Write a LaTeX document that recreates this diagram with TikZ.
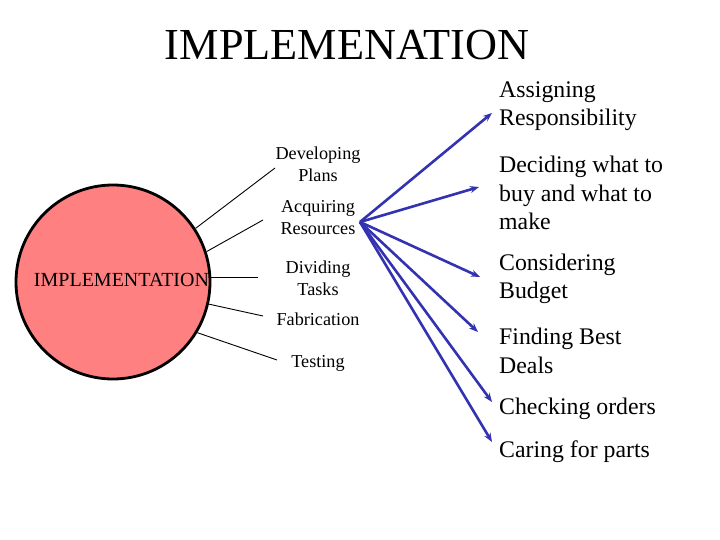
\documentclass[tikz,border=0pt]{standalone}
\usepackage{fontspec}
\setmainfont{Liberation Serif}
\usetikzlibrary{arrows.meta}
\definecolor{salmon}{RGB}{255,128,128}
\definecolor{arrowblue}{RGB}{51,51,178}
\tikzset{
  small/.style={font=\fontsize{18.2}{22}\selectfont, align=center, inner sep=0pt},
  big/.style={font=\fontsize{23.8}{28.5}\selectfont, align=left, inner sep=0pt, anchor=west},
  spoke/.style={draw=black, line width=0.9pt},
  blue arrow/.style={draw=arrowblue, line width=2.6pt, -{Stealth[length=9pt,width=7pt]}}
}
\begin{document}
\begin{tikzpicture}[x=1pt,y=-1pt]
\useasboundingbox (0,0) rectangle (720,540);
\node[font=\fontsize{44.3}{48}\selectfont, inner sep=0pt] (title) at (347,45) {IMPLEMENATION};
\node[circle, draw=black, line width=2.8pt, fill=salmon, minimum size=194pt, inner sep=0pt] (circ) at (113,282) {};
\node[font=\fontsize{20}{22}\selectfont, inner sep=0pt] (clabel) at (121.5,280) {IMPLEMENTATION};
% left labels
\node[small] (dev) at (318,164) {Developing\\Plans};
\node[small] (acq) at (318,218) {Acquiring\\Resources};
\node[small] (div) at (318,278) {Dividing\\Tasks};
\node[small] (fab) at (318,319) {Fabrication};
\node[small] (tst) at (318,363) {Testing};
\coordinate (e1) at (275,168);
\coordinate (e2) at (263,220);
\coordinate (e3) at (258,277.5);
\coordinate (e4) at (263,316);
\coordinate (e5) at (277,360);
\draw[spoke] (circ.33) -- (e1);
\draw[spoke] (circ.18.6) -- (e2);
\draw[spoke] (circ.3 |- e3) -- (e3);
\draw[spoke] (circ.-13.3) -- (e4);
\draw[spoke] (circ.-31) -- (e5);
% right labels
\node[big] (r1) at (499,106) {Assigning\\Responsibility};
\node[big] (r2) at (499,193) {Deciding what to\\buy and what to\\make};
\node[big] (r3) at (499,279) {Considering\\Budget};
\node[big] (r4) at (499,351) {Finding Best\\Deals};
\node[big] (r5) at (499,409) {Checking orders};
\node[big] (r6) at (499,452) {Caring for parts};
\coordinate (src) at (360,222);
\coordinate (a1) at (492,113);
\coordinate (a2) at (479,187);
\coordinate (a3) at (480,277);
\coordinate (a4) at (478,332);
\coordinate (a5) at (492,402);
\coordinate (a6) at (492,442);
\foreach \t in {a1,a2,a3,a4,a5,a6} \draw[blue arrow] (src) -- (\t);
\end{tikzpicture}
\end{document}
